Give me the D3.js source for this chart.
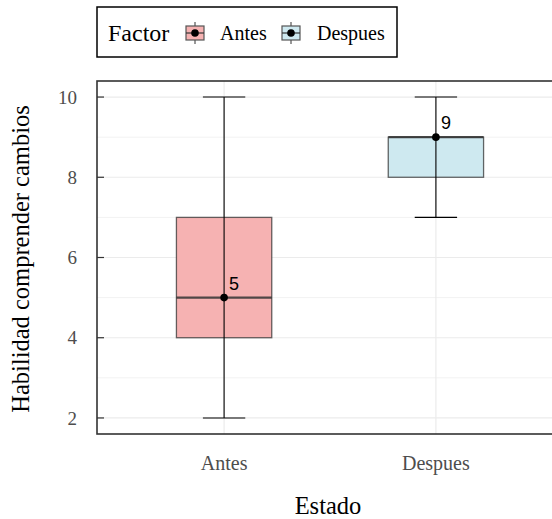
<!DOCTYPE html>
<html><head><meta charset="utf-8">
<script src="https://cdn.jsdelivr.net/npm/d3@7"></script>
<style>body{margin:0;background:#fff}svg{display:block}</style>
</head><body>
<script>
const categories = ["Antes", "Despues"];
const whiskerLow = [2, 7];
const q1 = [4, 8];
const median = [5, 9];
const q3 = [7, 9];
const whiskerHigh = [10, 10];
const meanValues = [5, 9];
const fills = ["#F6B2B2", "#CEE9F0"];
const yTicks = [2, 4, 6, 8, 10];
const yMinor = [3, 5, 7, 9];

(function () {
const W = 552, H = 519;
const svg = d3.select("body").append("svg").attr("width", W).attr("height", H);
const serif = "'Liberation Serif', 'Times New Roman', serif";

const pL = 97, pT = 81, pB = 434, pR = 563;
const y = d3.scaleLinear().domain([1.6, 10.4]).range([pB, pT]);
const xPos = d3.scaleLinear().domain([0.4, 2.6]).range([pL, pR]);
const x = c => xPos(categories.indexOf(c) + 1);
const unit = xPos(1) - xPos(0);

const g = svg.append("g");
g.selectAll(".minor").data(yMinor).enter().append("line")
  .attr("x1", pL).attr("x2", pR).attr("y1", d => y(d)).attr("y2", d => y(d))
  .attr("stroke", "#F2F2F2").attr("stroke-width", 1);
g.selectAll(".major").data(yTicks).enter().append("line")
  .attr("x1", pL).attr("x2", pR).attr("y1", d => y(d)).attr("y2", d => y(d))
  .attr("stroke", "#EBEBEB").attr("stroke-width", 1.2);
g.selectAll(".vmajor").data(categories).enter().append("line")
  .attr("x1", d => x(d)).attr("x2", d => x(d)).attr("y1", pT).attr("y2", pB)
  .attr("stroke", "#EBEBEB").attr("stroke-width", 1.2);

const bw = 0.45 * unit;
categories.forEach((c, i) => {
  const cx = x(c);
  g.append("rect").attr("x", cx - bw / 2).attr("width", bw)
    .attr("y", y(q3[i])).attr("height", y(q1[i]) - y(q3[i]))
    .attr("fill", fills[i]).attr("stroke", "#333").attr("stroke-opacity", 0.75).attr("stroke-width", 1.3);
  g.append("line").attr("x1", cx - bw / 2).attr("x2", cx + bw / 2)
    .attr("y1", y(median[i])).attr("y2", y(median[i]))
    .attr("stroke", "#333").attr("stroke-opacity", 0.85).attr("stroke-width", 2.4);
});
const cw = 0.2 * unit;
categories.forEach((c, i) => {
  const cx = x(c);
  g.append("line").attr("x1", cx).attr("x2", cx).attr("y1", y(whiskerLow[i])).attr("y2", y(whiskerHigh[i]))
    .attr("stroke", "#000").attr("stroke-width", 1.1);
  [whiskerLow[i], whiskerHigh[i]].forEach(v => {
    g.append("line").attr("x1", cx - cw / 2).attr("x2", cx + cw / 2).attr("y1", y(v)).attr("y2", y(v))
      .attr("stroke", "#000").attr("stroke-width", 1.1);
  });
  g.append("circle").attr("cx", cx).attr("cy", y(meanValues[i])).attr("r", 3.8).attr("fill", "#000");
  g.append("text").attr("x", cx + 5).attr("y", y(meanValues[i]) - 8)
    .attr("font-family", "'Liberation Sans', Arial, sans-serif").attr("font-size", 18).attr("fill", "#000")
    .text(meanValues[i]);
});

g.append("rect").attr("x", pL).attr("y", pT).attr("width", pR - pL).attr("height", pB - pT)
  .attr("fill", "none").attr("stroke", "#333").attr("stroke-width", 1.6);

yTicks.forEach(v => {
  g.append("line").attr("x1", pL).attr("x2", pL + 7).attr("y1", y(v)).attr("y2", y(v))
    .attr("stroke", "#333").attr("stroke-width", 1.2);
  g.append("text").attr("x", 77).attr("y", y(v)).attr("dy", "0.35em").attr("text-anchor", "end")
    .attr("font-family", serif).attr("font-size", 19).attr("fill", "#4D4D4D").text(v);
});
categories.forEach(c => {
  g.append("text").attr("x", x(c)).attr("y", 470).attr("text-anchor", "middle")
    .attr("font-family", serif).attr("font-size", 20).attr("fill", "#4D4D4D").text(c);
});
svg.append("text").attr("x", 328).attr("y", 514).attr("text-anchor", "middle")
  .attr("font-family", serif).attr("font-size", 24.5).attr("fill", "#000").text("Estado");
svg.append("text").attr("transform", "translate(29,259) rotate(-90)")
  .attr("text-anchor", "middle")
  .attr("font-family", serif).attr("font-size", 24.5).attr("fill", "#000").text("Habilidad comprender cambios");

const lg = svg.append("g");
lg.append("rect").attr("x", 97).attr("y", 7).attr("width", 300).attr("height", 50)
  .attr("fill", "#fff").attr("stroke", "#000").attr("stroke-width", 1.5);
lg.append("text").attr("x", 108).attr("y", 41).attr("font-family", serif).attr("font-size", 24)
  .attr("fill", "#000").text("Factor");
const keyX = [185, 281], labX = [220, 317];
categories.forEach((c, i) => {
  const kx = keyX[i], cy = 33;
  lg.append("line").attr("x1", kx + 10).attr("x2", kx + 10).attr("y1", cy - 11).attr("y2", cy + 11)
    .attr("stroke", "#333").attr("stroke-width", 1);
  lg.append("rect").attr("x", kx + 1).attr("y", cy - 7).attr("width", 18).attr("height", 14)
    .attr("fill", fills[i]).attr("stroke", "#555").attr("stroke-width", 1.2);
  lg.append("line").attr("x1", kx + 1).attr("x2", kx + 19).attr("y1", cy).attr("y2", cy)
    .attr("stroke", "#333").attr("stroke-width", 1.2);
  lg.append("circle").attr("cx", kx + 10).attr("cy", cy).attr("r", 3.8).attr("fill", "#000");
  lg.append("text").attr("x", labX[i]).attr("y", 40).attr("font-family", serif).attr("font-size", 20)
    .attr("fill", "#000").text(c);
});
})();
</script>
</body></html>
